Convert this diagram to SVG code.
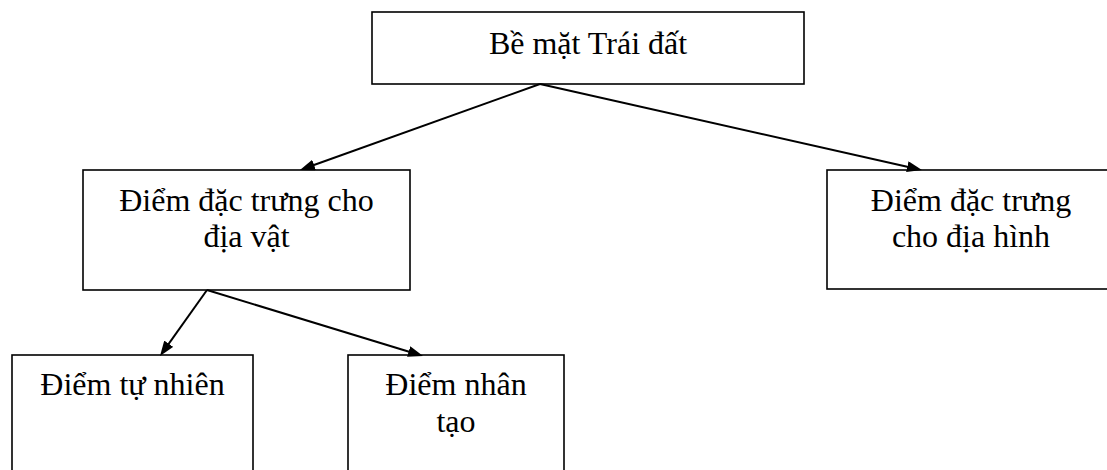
<svg xmlns="http://www.w3.org/2000/svg" width="1107" height="470" viewBox="0 0 1107 470">
<style>
.box{fill:#fff;stroke:#000;stroke-width:1.6}
.lbl{font-family:"Liberation Serif","Times New Roman",serif;font-size:32px;fill:#000;text-anchor:middle}
.con{stroke:#000;stroke-width:2;fill:none;marker-end:url(#ah)}
</style>
<defs>
<marker id="ah" viewBox="0 0 15 11" refX="9" refY="5.5" markerWidth="15" markerHeight="11" orient="auto" markerUnits="userSpaceOnUse">
<path d="M0,0 L15,5.5 L0,11 z" fill="#000"/>
</marker>
</defs>
<rect width="1107" height="470" fill="#fff"/>
<g id="n-root">
<rect class="box" x="372" y="12" width="432" height="72"/>
<text class="lbl" x="588" y="54">Bề mặt Trái đất</text>
</g>
<g id="n-diavat">
<rect class="box" x="83" y="170" width="327" height="120"/>
<text class="lbl" x="246.5" y="211">Điểm đặc trưng cho</text>
<text class="lbl" x="246.5" y="247">địa vật</text>
</g>
<g id="n-diahinh">
<rect class="box" x="827" y="170" width="290" height="119"/>
<text class="lbl" x="971" y="211">Điểm đặc trưng</text>
<text class="lbl" x="971" y="247">cho địa hình</text>
</g>
<g id="n-tunhien">
<rect class="box" x="12" y="355" width="241" height="130"/>
<text class="lbl" x="132.5" y="395">Điểm tự nhiên</text>
</g>
<g id="n-nhantao">
<rect class="box" x="348" y="355" width="216" height="130"/>
<text class="lbl" x="456" y="395">Điểm nhân</text>
<text class="lbl" x="456" y="432">tạo</text>
</g>
<g id="connectors">
<line class="con" x1="540" y1="84" x2="305.6" y2="168"/>
<line class="con" x1="540" y1="84" x2="916.1" y2="168.7"/>
<line class="con" x1="207" y1="290" x2="163.5" y2="351.1"/>
<line class="con" x1="207" y1="290" x2="417.3" y2="354.2"/>
</g>
</svg>
